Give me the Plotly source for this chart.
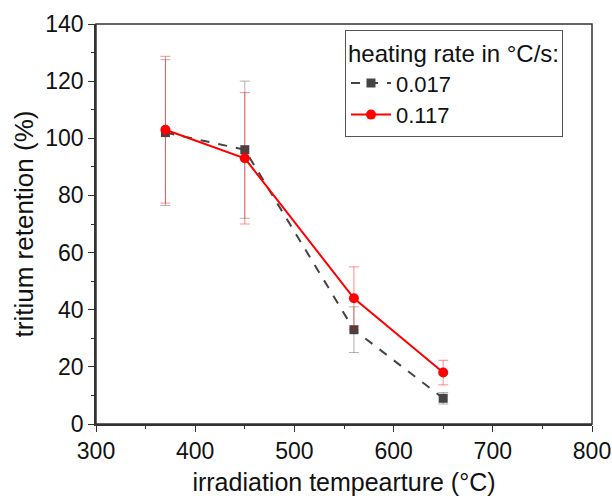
import plotly.graph_objects as go

temps = [370, 450, 560, 650]

# heating rate 0.017 °C/s
ret_slow = [102, 96, 33, 9]
err_slow = [25.5, 24, 8, 2]

# heating rate 0.117 °C/s
ret_fast = [103, 93, 44, 18]
err_fast = [25.7, 23, 11, 4.3]

fig = go.Figure()

fig.add_trace(go.Scatter(
    x=temps, y=ret_slow, name="0.017",
    mode="lines+markers",
    line=dict(color="#444444", width=2, dash="dash"),
    marker=dict(symbol="square", size=9, color="#444444"),
    error_y=dict(type="data", array=err_slow, color="rgba(100,100,100,0.5)",
                 thickness=1, width=5),
))
fig.add_trace(go.Scatter(
    x=temps, y=ret_fast, name="0.117",
    mode="lines+markers",
    line=dict(color="#ff0000", width=2),
    marker=dict(symbol="circle", size=10, color="#ff0000"),
    error_y=dict(type="data", array=err_fast, color="rgba(255,0,0,0.45)",
                 thickness=1, width=5),
))

axis_style = dict(
    showline=True, linecolor="#333333", linewidth=1.5,
    ticks="outside", ticklen=6, tickcolor="#333333",
    showgrid=False, zeroline=False, automargin=False,
    tickfont=dict(size=23, color="#111111"),
    ticklabeloverflow="allow",
)

fig.update_xaxes(
    range=[300, 800], dtick=100,
    minor=dict(ticks="outside", ticklen=3, dtick=50, tickcolor="#333333"),
    title=dict(text="irradiation tempearture (°C)", font=dict(size=25, color="#111111"), standoff=10),
    **axis_style,
)
fig.update_yaxes(
    range=[0, 140], dtick=20,
    minor=dict(ticks="outside", ticklen=3, dtick=10, tickcolor="#333333"),
    title=dict(text="tritium retention (%)", font=dict(size=26, color="#111111"), standoff=4),
    **axis_style,
)

# box round the plot area (top and right edges without ticks)
fig.add_shape(type="rect", xref="paper", yref="paper", x0=0, x1=1, y0=0, y1=1,
              line=dict(color="#333333", width=1.5), layer="above")

fig.update_layout(
    width=612, height=502,
    margin=dict(l=96, r=20, t=24, b=78, autoexpand=False),
    plot_bgcolor="white", paper_bgcolor="white",
    font=dict(family="Liberation Sans, Arial, sans-serif"),
    showlegend=True,
    legend=dict(
        title=dict(text="heating rate in °C/s:", font=dict(size=24, color="#111111")),
        font=dict(size=22, color="#111111"),
        x=0.502, y=0.985, xanchor="left", yanchor="top",
        bordercolor="#555555", borderwidth=1, bgcolor="white",
        tracegroupgap=0, itemwidth=40,
    ),
)

fig.write_html("out.html", config={"displayModeBar": False})

# drop the default body margin so the figure sits flush in the window
with open("out.html", encoding="utf-8") as f:
    page = f.read()
page = page.replace("<head>", "<head><style>body{margin:0;overflow:hidden}</style>", 1)
with open("out.html", "w", encoding="utf-8") as f:
    f.write(page)
